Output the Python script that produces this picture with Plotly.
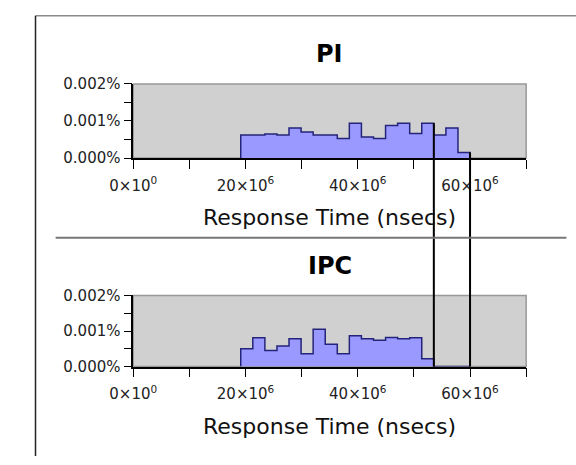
import plotly.graph_objects as go

# ---- data ----
bin_start = 19.15e6          # first bin edge (ns)
bin_width = 2.15e6           # bin width (ns)
pi_values = [0.00062, 0.00062, 0.00065, 0.00062, 0.00081, 0.00070, 0.00062, 0.00062,
             0.00053, 0.00094, 0.00057, 0.00053, 0.00088, 0.00094, 0.00066, 0.00094,
             0.00062, 0.00081, 0.00015]          # percent
ipc_values = [0.00050, 0.00081, 0.00045, 0.00058, 0.00078, 0.00036, 0.00105, 0.00063,
              0.00036, 0.00087, 0.00078, 0.00074, 0.00082, 0.00078, 0.00081, 0.00022,
              0.0, 0.0, 0.0]                      # percent
panel_titles = ["PI", "IPC"]
x_title = "Response Time (nsecs)"
x_tickvals = [0, 20e6, 40e6, 60e6]
x_ticktext = ["0×10<sup>0</sup>", "20×10<sup>6</sup>", "40×10<sup>6</sup>", "60×10<sup>6</sup>"]
x_minorvals = [10e6, 30e6, 50e6, 70e6]
y_tickvals = [0, 0.001, 0.002]
y_ticktext = ["0.000%", "0.001%", "0.002%"]
y_minorvals = [0.0005, 0.0015]
marker_edges = [16, 19]     # bin-edge indices where vertical markers are drawn

W, H = 576, 465
FONT = "DejaVu Sans"
FILL = "#9999ff"
EDGE = "#24247a"

def edges(n):
    return [bin_start + i * bin_width for i in range(n + 1)]

def step_xy(vals):
    e = edges(len(vals))
    xs = [e[0]] + e[:-1] + [e[-1]]
    ys = [0] + list(vals) + [0]
    return xs, ys

fig = go.Figure()

x_dom = [114 / W, 524 / W]
y_doms = [[1 - 155 / H, 1 - 78 / H], [1 - 372 / H, 1 - 298 / H]]
series = [pi_values, ipc_values]
y_range = [0, 0.002]

for i, vals in enumerate(series):
    xs, ys = step_xy(vals)
    suffix = "" if i == 0 else str(i + 1)
    fig.add_trace(go.Scatter(
        x=xs, y=ys, mode="lines", line=dict(shape="hv", color=EDGE, width=1.5),
        fill="tozeroy", fillcolor=FILL, hoverinfo="skip", showlegend=False,
        xaxis="x" + suffix, yaxis="y" + suffix))
    axcommon = dict(showgrid=False, zeroline=False, showline=True, linecolor="black",
                    linewidth=1.5, ticks="outside", tickcolor="black", tickwidth=1,
                    tickfont=dict(family=FONT, size=15, color="#222"))
    fig.layout["xaxis" + suffix] = dict(
        domain=x_dom, range=[0, 70e6], anchor="y" + suffix,
        tickmode="array", tickvals=x_tickvals, ticktext=x_ticktext, ticklen=9,
        ticklabelstandoff=4,
        minor=dict(tickvals=x_minorvals, ticks="outside", ticklen=9, tickcolor="black",
                   tickwidth=1, showgrid=False),
        **axcommon)
    fig.layout["yaxis" + suffix] = dict(
        domain=y_doms[i], range=y_range, anchor="x" + suffix,
        tickmode="array", tickvals=y_tickvals, ticktext=y_ticktext, ticklen=8,
        minor=dict(tickvals=y_minorvals, ticks="outside", ticklen=8, tickcolor="black",
                   tickwidth=1, showgrid=False),
        **axcommon)
    # gray frame (top/right)
    fig.add_shape(type="rect", xref="paper", yref="paper",
                  x0=x_dom[0], x1=x_dom[1], y0=y_doms[i][0], y1=y_doms[i][1],
                  line=dict(color="#999999", width=1.5), fillcolor="rgba(0,0,0,0)",
                  layer="below")
    ymid_title = y_doms[i][1] + 31 / H
    fig.add_annotation(text="<b>%s</b>" % panel_titles[i], xref="paper", yref="paper",
                       x=(x_dom[0] + x_dom[1]) / 2, y=ymid_title, showarrow=False,
                       font=dict(family=FONT, size=24, color="black"),
                       xanchor="center", yanchor="middle")
    fig.add_annotation(text=x_title, xref="paper", yref="paper",
                       x=(x_dom[0] + x_dom[1]) / 2, y=y_doms[i][0] - 62 / H,
                       showarrow=False, font=dict(family=FONT, size=22, color="#111"),
                       xanchor="center", yanchor="middle")

# vertical marker lines spanning both panels (from PI bin tops down to IPC axis)
e = edges(len(pi_values))
for k in marker_edges:
    top_val = max(pi_values[k - 1], pi_values[k] if k < len(pi_values) else 0)
    y_top = y_doms[0][0] + (top_val - y_range[0]) / (y_range[1] - y_range[0]) * (y_doms[0][1] - y_doms[0][0])
    fig.add_shape(type="line", xref="x", yref="paper", x0=e[k], x1=e[k],
                  y0=y_doms[1][0], y1=y_top, line=dict(color="black", width=2))

# page frame lines
fig.add_shape(type="line", xref="paper", yref="paper", x0=12 / W, x1=1, y0=1 - 7 / H, y1=1 - 7 / H,
              line=dict(color="#8a8a8a", width=1.5))
fig.add_shape(type="line", xref="paper", yref="paper", x0=12 / W, x1=12 / W, y0=0, y1=1 - 7 / H,
              line=dict(color="#222222", width=1.5))
fig.add_shape(type="line", xref="paper", yref="paper", x0=33 / W, x1=566 / W, y0=1 - 238 / H, y1=1 - 238 / H,
              line=dict(color="#777777", width=2))

fig.update_layout(width=W, height=H, margin=dict(l=0, r=0, t=0, b=0),
                  paper_bgcolor="white", plot_bgcolor="#d0d0d0",
                  font=dict(family=FONT))

fig.write_html("out.html")
